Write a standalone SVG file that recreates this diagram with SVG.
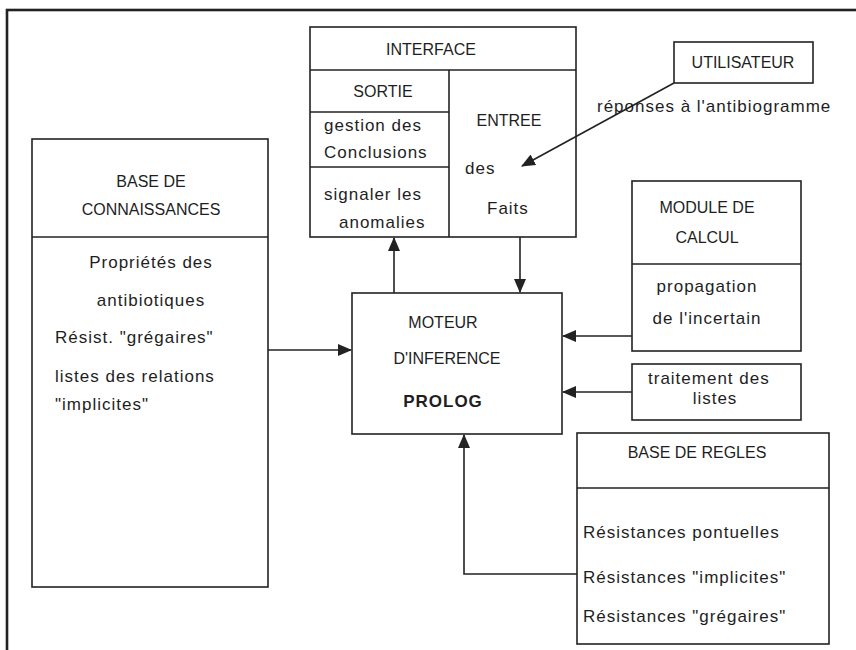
<svg xmlns="http://www.w3.org/2000/svg" width="856" height="650" viewBox="0 0 856 650">
<style>
text{font-family:"Liberation Sans",Arial,sans-serif;fill:#1e1e1e}
.c{font-size:16px}
.l{font-size:17px;letter-spacing:1px}
.m{text-anchor:middle}
.box{fill:none;stroke:#222;stroke-width:1.6}
.ln{fill:none;stroke:#222;stroke-width:1.6}
.con{fill:none;stroke:#222;stroke-width:1.6;marker-end:url(#ah)}
</style>
<defs>
<marker id="ah" markerUnits="userSpaceOnUse" markerWidth="14" markerHeight="12" refX="13" refY="6" orient="auto">
<path d="M0,0 L14,6 L0,12 Z" fill="#222"/>
</marker>
</defs>
<rect x="0" y="0" width="856" height="650" fill="#fff"/>
<rect x="7" y="10" width="900" height="700" fill="none" stroke="#222" stroke-width="2.6"/>

<g id="interface">
<rect class="box" x="310" y="27" width="266" height="210"/>
<line class="ln" x1="310" y1="70" x2="576" y2="70"/>
<line class="ln" x1="449" y1="70" x2="449" y2="237"/>
<line class="ln" x1="310" y1="112" x2="449" y2="112"/>
<line class="ln" x1="310" y1="167" x2="449" y2="167"/>
<text class="c m" x="431" y="55">INTERFACE</text>
<text class="c m" x="383" y="97">SORTIE</text>
<text class="l" x="324" y="131">gestion des</text>
<text class="l" x="324" y="158">Conclusions</text>
<text class="l" x="324" y="200">signaler les</text>
<text class="l" x="339" y="228">anomalies</text>
<text class="c m" x="509" y="126">ENTREE</text>
<text class="l" x="465" y="174">des</text>
<text class="l" x="487" y="214">Faits</text>
</g>

<g id="utilisateur">
<rect class="box" x="674" y="42" width="139" height="41"/>
<text class="c m" x="743" y="68">UTILISATEUR</text>
</g>

<g id="base-connaissances">
<rect class="box" x="32" y="139" width="236" height="448"/>
<line class="ln" x1="32" y1="237" x2="268" y2="237"/>
<text class="c m" x="151" y="187">BASE DE</text>
<text class="c m" x="151" y="215">CONNAISSANCES</text>
<text class="l m" x="151" y="268">Propriétés des</text>
<text class="l m" x="151" y="306">antibiotiques</text>
<text class="l" x="55" y="343">Résist. "grégaires"</text>
<text class="l" x="55" y="382">listes des relations</text>
<text class="l" x="55" y="410">"implicites"</text>
</g>

<g id="moteur">
<rect class="box" x="352" y="293" width="210" height="141"/>
<text class="c m" x="443" y="328">MOTEUR</text>
<text class="c m" x="447" y="364">D'INFERENCE</text>
<text class="m" x="443" y="407" style="font-size:17px;font-weight:bold;letter-spacing:1px">PROLOG</text>
</g>

<g id="module-calcul">
<rect class="box" x="632" y="181" width="169" height="170"/>
<line class="ln" x1="632" y1="264" x2="801" y2="264"/>
<text class="c m" x="707" y="213">MODULE DE</text>
<text class="c m" x="707" y="243">CALCUL</text>
<text class="l m" x="707" y="292">propagation</text>
<text class="l m" x="707" y="324">de l'incertain</text>
</g>

<g id="traitement-listes">
<rect class="box" x="632" y="364" width="169" height="56"/>
<text class="l" x="648" y="384">traitement des</text>
<text class="l m" x="715" y="404">listes</text>
</g>

<g id="base-regles">
<rect class="box" x="577" y="433" width="252" height="211"/>
<line class="ln" x1="577" y1="488" x2="829" y2="488"/>
<text class="c m" x="697" y="458">BASE DE REGLES</text>
<text class="l" x="583" y="538">Résistances pontuelles</text>
<text class="l" x="583" y="583">Résistances "implicites"</text>
<text class="l" x="583" y="622">Résistances "grégaires"</text>
</g>

<g id="connectors">
<line class="con" x1="674" y1="83" x2="522" y2="166"/>
<text class="l" x="597" y="112">réponses à l'antibiogramme</text>
<line class="con" x1="394" y1="293" x2="394" y2="238"/>
<line class="con" x1="520" y1="237" x2="520" y2="292"/>
<line class="con" x1="268" y1="350" x2="351" y2="350"/>
<line class="con" x1="632" y1="336" x2="563" y2="336"/>
<line class="con" x1="632" y1="392" x2="563" y2="392"/>
<polyline class="con" points="577,574 464,574 464,435"/>
</g>
</svg>
